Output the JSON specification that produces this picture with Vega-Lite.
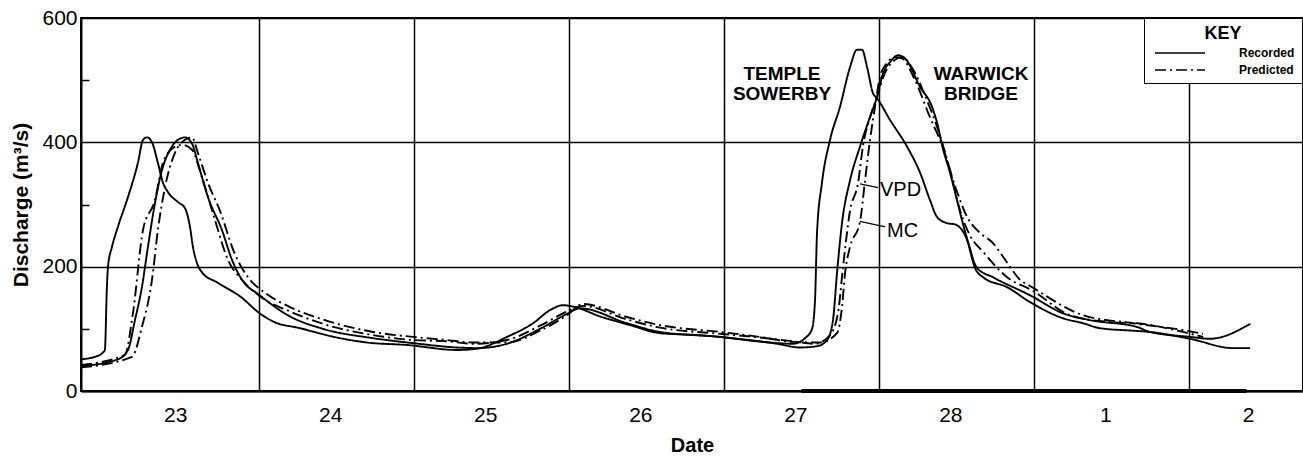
{
  "$schema": "https://vega.github.io/schema/vega-lite/v6.json",
  "width": 1222,
  "height": 373,
  "autosize": "none",
  "padding": {"left": 81, "top": 18, "right": 0, "bottom": 68},
  "background": "white",
  "config": {
    "font": "Liberation Sans",
    "view": {"stroke": "black", "strokeWidth": 2}
  },
  "datasets": {
    "flow": [
      {"series": "TS", "kind": "Recorded", "t": -0.148, "q": 51},
      {"series": "TS", "kind": "Recorded", "t": -0.058, "q": 55},
      {"series": "TS", "kind": "Recorded", "t": -0.006, "q": 62},
      {"series": "TS", "kind": "Recorded", "t": 0.006, "q": 66},
      {"series": "TS", "kind": "Recorded", "t": 0.019, "q": 167},
      {"series": "TS", "kind": "Recorded", "t": 0.026, "q": 200},
      {"series": "TS", "kind": "Recorded", "t": 0.052, "q": 232},
      {"series": "TS", "kind": "Recorded", "t": 0.09, "q": 264},
      {"series": "TS", "kind": "Recorded", "t": 0.155, "q": 312},
      {"series": "TS", "kind": "Recorded", "t": 0.219, "q": 367},
      {"series": "TS", "kind": "Recorded", "t": 0.252, "q": 404},
      {"series": "TS", "kind": "Recorded", "t": 0.277, "q": 408},
      {"series": "TS", "kind": "Recorded", "t": 0.31, "q": 400},
      {"series": "TS", "kind": "Recorded", "t": 0.348, "q": 367},
      {"series": "TS", "kind": "Recorded", "t": 0.381, "q": 335},
      {"series": "TS", "kind": "Recorded", "t": 0.413, "q": 320},
      {"series": "TS", "kind": "Recorded", "t": 0.477, "q": 304},
      {"series": "TS", "kind": "Recorded", "t": 0.523, "q": 294},
      {"series": "TS", "kind": "Recorded", "t": 0.555, "q": 264},
      {"series": "TS", "kind": "Recorded", "t": 0.574, "q": 232},
      {"series": "TS", "kind": "Recorded", "t": 0.6, "q": 206},
      {"series": "TS", "kind": "Recorded", "t": 0.632, "q": 191},
      {"series": "TS", "kind": "Recorded", "t": 0.735, "q": 174},
      {"series": "TS", "kind": "Recorded", "t": 0.89, "q": 150},
      {"series": "TS", "kind": "Recorded", "t": 0.994, "q": 127},
      {"series": "TS", "kind": "Recorded", "t": 1.09, "q": 112},
      {"series": "TS", "kind": "Recorded", "t": 1.265, "q": 101},
      {"series": "TS", "kind": "Recorded", "t": 1.523, "q": 85},
      {"series": "TS", "kind": "Recorded", "t": 1.697, "q": 78},
      {"series": "TS", "kind": "Recorded", "t": 1.955, "q": 74},
      {"series": "TS", "kind": "Recorded", "t": 2.277, "q": 66},
      {"series": "TS", "kind": "Recorded", "t": 2.406, "q": 68},
      {"series": "TS", "kind": "Recorded", "t": 2.6, "q": 87},
      {"series": "TS", "kind": "Recorded", "t": 2.768, "q": 109},
      {"series": "TS", "kind": "Recorded", "t": 2.877, "q": 130},
      {"series": "TS", "kind": "Recorded", "t": 2.961, "q": 138},
      {"series": "TS", "kind": "Recorded", "t": 3.039, "q": 135},
      {"series": "TS", "kind": "Recorded", "t": 3.2, "q": 120},
      {"series": "TS", "kind": "Recorded", "t": 3.394, "q": 106},
      {"series": "TS", "kind": "Recorded", "t": 3.587, "q": 93},
      {"series": "TS", "kind": "Recorded", "t": 3.826, "q": 90},
      {"series": "TS", "kind": "Recorded", "t": 3.974, "q": 87},
      {"series": "TS", "kind": "Recorded", "t": 4.252, "q": 79},
      {"series": "TS", "kind": "Recorded", "t": 4.445, "q": 76},
      {"series": "TS", "kind": "Recorded", "t": 4.523, "q": 85},
      {"series": "TS", "kind": "Recorded", "t": 4.568, "q": 100},
      {"series": "TS", "kind": "Recorded", "t": 4.587, "q": 146},
      {"series": "TS", "kind": "Recorded", "t": 4.6, "q": 254},
      {"series": "TS", "kind": "Recorded", "t": 4.632, "q": 335},
      {"series": "TS", "kind": "Recorded", "t": 4.684, "q": 404},
      {"series": "TS", "kind": "Recorded", "t": 4.748, "q": 457},
      {"series": "TS", "kind": "Recorded", "t": 4.813, "q": 521},
      {"series": "TS", "kind": "Recorded", "t": 4.858, "q": 549},
      {"series": "TS", "kind": "Recorded", "t": 4.89, "q": 549},
      {"series": "TS", "kind": "Recorded", "t": 4.923, "q": 521},
      {"series": "TS", "kind": "Recorded", "t": 4.961, "q": 479},
      {"series": "TS", "kind": "Recorded", "t": 4.987, "q": 471},
      {"series": "TS", "kind": "Recorded", "t": 5.071, "q": 436},
      {"series": "TS", "kind": "Recorded", "t": 5.181, "q": 393},
      {"series": "TS", "kind": "Recorded", "t": 5.265, "q": 351},
      {"series": "TS", "kind": "Recorded", "t": 5.329, "q": 307},
      {"series": "TS", "kind": "Recorded", "t": 5.374, "q": 280},
      {"series": "TS", "kind": "Recorded", "t": 5.439, "q": 270},
      {"series": "TS", "kind": "Recorded", "t": 5.49, "q": 268},
      {"series": "TS", "kind": "Recorded", "t": 5.568, "q": 243},
      {"series": "TS", "kind": "Recorded", "t": 5.619, "q": 198},
      {"series": "TS", "kind": "Recorded", "t": 5.671, "q": 183},
      {"series": "TS", "kind": "Recorded", "t": 5.826, "q": 167},
      {"series": "TS", "kind": "Recorded", "t": 5.974, "q": 143},
      {"series": "TS", "kind": "Recorded", "t": 6.187, "q": 117},
      {"series": "TS", "kind": "Recorded", "t": 6.316, "q": 109},
      {"series": "TS", "kind": "Recorded", "t": 6.426, "q": 101},
      {"series": "TS", "kind": "Recorded", "t": 6.639, "q": 97},
      {"series": "TS", "kind": "Recorded", "t": 6.748, "q": 95},
      {"series": "TS", "kind": "Recorded", "t": 7.006, "q": 84},
      {"series": "TS", "kind": "Recorded", "t": 7.284, "q": 69},
      {"series": "TS", "kind": "Recorded", "t": 7.394, "q": 69},

      {"series": "WB", "kind": "Recorded", "t": -0.148, "q": 40},
      {"series": "WB", "kind": "Recorded", "t": 0.09, "q": 51},
      {"series": "WB", "kind": "Recorded", "t": 0.155, "q": 66},
      {"series": "WB", "kind": "Recorded", "t": 0.2, "q": 114},
      {"series": "WB", "kind": "Recorded", "t": 0.245, "q": 167},
      {"series": "WB", "kind": "Recorded", "t": 0.284, "q": 232},
      {"series": "WB", "kind": "Recorded", "t": 0.329, "q": 302},
      {"series": "WB", "kind": "Recorded", "t": 0.374, "q": 355},
      {"series": "WB", "kind": "Recorded", "t": 0.426, "q": 388},
      {"series": "WB", "kind": "Recorded", "t": 0.477, "q": 404},
      {"series": "WB", "kind": "Recorded", "t": 0.523, "q": 408},
      {"series": "WB", "kind": "Recorded", "t": 0.568, "q": 398},
      {"series": "WB", "kind": "Recorded", "t": 0.606, "q": 367},
      {"series": "WB", "kind": "Recorded", "t": 0.671, "q": 312},
      {"series": "WB", "kind": "Recorded", "t": 0.761, "q": 259},
      {"series": "WB", "kind": "Recorded", "t": 0.826, "q": 211},
      {"series": "WB", "kind": "Recorded", "t": 0.89, "q": 179},
      {"series": "WB", "kind": "Recorded", "t": 1.0, "q": 155},
      {"series": "WB", "kind": "Recorded", "t": 1.2, "q": 120},
      {"series": "WB", "kind": "Recorded", "t": 1.413, "q": 100},
      {"series": "WB", "kind": "Recorded", "t": 1.735, "q": 85},
      {"series": "WB", "kind": "Recorded", "t": 1.994, "q": 77},
      {"series": "WB", "kind": "Recorded", "t": 2.277, "q": 70},
      {"series": "WB", "kind": "Recorded", "t": 2.406, "q": 69},
      {"series": "WB", "kind": "Recorded", "t": 2.6, "q": 76},
      {"series": "WB", "kind": "Recorded", "t": 2.813, "q": 100},
      {"series": "WB", "kind": "Recorded", "t": 2.987, "q": 124},
      {"series": "WB", "kind": "Recorded", "t": 3.071, "q": 133},
      {"series": "WB", "kind": "Recorded", "t": 3.374, "q": 109},
      {"series": "WB", "kind": "Recorded", "t": 3.587, "q": 95},
      {"series": "WB", "kind": "Recorded", "t": 3.974, "q": 87},
      {"series": "WB", "kind": "Recorded", "t": 4.342, "q": 76},
      {"series": "WB", "kind": "Recorded", "t": 4.49, "q": 70},
      {"series": "WB", "kind": "Recorded", "t": 4.6, "q": 72},
      {"series": "WB", "kind": "Recorded", "t": 4.665, "q": 82},
      {"series": "WB", "kind": "Recorded", "t": 4.703, "q": 114},
      {"series": "WB", "kind": "Recorded", "t": 4.729, "q": 190},
      {"series": "WB", "kind": "Recorded", "t": 4.761, "q": 270},
      {"series": "WB", "kind": "Recorded", "t": 4.813, "q": 339},
      {"series": "WB", "kind": "Recorded", "t": 4.877, "q": 393},
      {"series": "WB", "kind": "Recorded", "t": 4.942, "q": 441},
      {"series": "WB", "kind": "Recorded", "t": 4.987, "q": 473},
      {"series": "WB", "kind": "Recorded", "t": 5.026, "q": 511},
      {"series": "WB", "kind": "Recorded", "t": 5.071, "q": 529},
      {"series": "WB", "kind": "Recorded", "t": 5.123, "q": 540},
      {"series": "WB", "kind": "Recorded", "t": 5.168, "q": 535},
      {"series": "WB", "kind": "Recorded", "t": 5.265, "q": 489},
      {"series": "WB", "kind": "Recorded", "t": 5.342, "q": 457},
      {"series": "WB", "kind": "Recorded", "t": 5.381, "q": 425},
      {"series": "WB", "kind": "Recorded", "t": 5.406, "q": 396},
      {"series": "WB", "kind": "Recorded", "t": 5.458, "q": 351},
      {"series": "WB", "kind": "Recorded", "t": 5.503, "q": 307},
      {"series": "WB", "kind": "Recorded", "t": 5.535, "q": 275},
      {"series": "WB", "kind": "Recorded", "t": 5.574, "q": 240},
      {"series": "WB", "kind": "Recorded", "t": 5.632, "q": 198},
      {"series": "WB", "kind": "Recorded", "t": 5.735, "q": 183},
      {"series": "WB", "kind": "Recorded", "t": 5.974, "q": 154},
      {"series": "WB", "kind": "Recorded", "t": 6.187, "q": 125},
      {"series": "WB", "kind": "Recorded", "t": 6.361, "q": 114},
      {"series": "WB", "kind": "Recorded", "t": 6.665, "q": 103},
      {"series": "WB", "kind": "Recorded", "t": 6.748, "q": 95},
      {"series": "WB", "kind": "Recorded", "t": 7.006, "q": 87},
      {"series": "WB", "kind": "Recorded", "t": 7.135, "q": 84},
      {"series": "WB", "kind": "Recorded", "t": 7.394, "q": 108},

      {"series": "VPD", "kind": "Predicted", "t": -0.148, "q": 42},
      {"series": "VPD", "kind": "Predicted", "t": 0.135, "q": 58},
      {"series": "VPD", "kind": "Predicted", "t": 0.187, "q": 125},
      {"series": "VPD", "kind": "Predicted", "t": 0.252, "q": 259},
      {"series": "VPD", "kind": "Predicted", "t": 0.329, "q": 307},
      {"series": "VPD", "kind": "Predicted", "t": 0.381, "q": 367},
      {"series": "VPD", "kind": "Predicted", "t": 0.458, "q": 393},
      {"series": "VPD", "kind": "Predicted", "t": 0.503, "q": 396},
      {"series": "VPD", "kind": "Predicted", "t": 0.568, "q": 388},
      {"series": "VPD", "kind": "Predicted", "t": 0.632, "q": 344},
      {"series": "VPD", "kind": "Predicted", "t": 0.716, "q": 275},
      {"series": "VPD", "kind": "Predicted", "t": 0.8, "q": 211},
      {"series": "VPD", "kind": "Predicted", "t": 0.89, "q": 179},
      {"series": "VPD", "kind": "Predicted", "t": 1.019, "q": 150},
      {"series": "VPD", "kind": "Predicted", "t": 1.2, "q": 128},
      {"series": "VPD", "kind": "Predicted", "t": 1.413, "q": 108},
      {"series": "VPD", "kind": "Predicted", "t": 1.735, "q": 90},
      {"series": "VPD", "kind": "Predicted", "t": 1.994, "q": 82},
      {"series": "VPD", "kind": "Predicted", "t": 2.213, "q": 80},
      {"series": "VPD", "kind": "Predicted", "t": 2.381, "q": 76},
      {"series": "VPD", "kind": "Predicted", "t": 2.6, "q": 82},
      {"series": "VPD", "kind": "Predicted", "t": 2.813, "q": 105},
      {"series": "VPD", "kind": "Predicted", "t": 2.987, "q": 128},
      {"series": "VPD", "kind": "Predicted", "t": 3.09, "q": 137},
      {"series": "VPD", "kind": "Predicted", "t": 3.374, "q": 115},
      {"series": "VPD", "kind": "Predicted", "t": 3.587, "q": 102},
      {"series": "VPD", "kind": "Predicted", "t": 3.974, "q": 92},
      {"series": "VPD", "kind": "Predicted", "t": 4.232, "q": 86},
      {"series": "VPD", "kind": "Predicted", "t": 4.445, "q": 80},
      {"series": "VPD", "kind": "Predicted", "t": 4.587, "q": 76},
      {"series": "VPD", "kind": "Predicted", "t": 4.684, "q": 90},
      {"series": "VPD", "kind": "Predicted", "t": 4.735, "q": 125},
      {"series": "VPD", "kind": "Predicted", "t": 4.768, "q": 200},
      {"series": "VPD", "kind": "Predicted", "t": 4.813, "q": 290},
      {"series": "VPD", "kind": "Predicted", "t": 4.865, "q": 335},
      {"series": "VPD", "kind": "Predicted", "t": 4.897, "q": 395},
      {"series": "VPD", "kind": "Predicted", "t": 4.942, "q": 440},
      {"series": "VPD", "kind": "Predicted", "t": 4.987, "q": 473},
      {"series": "VPD", "kind": "Predicted", "t": 5.039, "q": 512},
      {"series": "VPD", "kind": "Predicted", "t": 5.09, "q": 530},
      {"series": "VPD", "kind": "Predicted", "t": 5.148, "q": 537},
      {"series": "VPD", "kind": "Predicted", "t": 5.213, "q": 520},
      {"series": "VPD", "kind": "Predicted", "t": 5.297, "q": 475},
      {"series": "VPD", "kind": "Predicted", "t": 5.394, "q": 410},
      {"series": "VPD", "kind": "Predicted", "t": 5.458, "q": 355},
      {"series": "VPD", "kind": "Predicted", "t": 5.523, "q": 290},
      {"series": "VPD", "kind": "Predicted", "t": 5.587, "q": 250},
      {"series": "VPD", "kind": "Predicted", "t": 5.671, "q": 224},
      {"series": "VPD", "kind": "Predicted", "t": 5.826, "q": 183},
      {"series": "VPD", "kind": "Predicted", "t": 5.987, "q": 162},
      {"series": "VPD", "kind": "Predicted", "t": 6.232, "q": 122},
      {"series": "VPD", "kind": "Predicted", "t": 6.49, "q": 111},
      {"series": "VPD", "kind": "Predicted", "t": 6.665, "q": 109},
      {"series": "VPD", "kind": "Predicted", "t": 6.961, "q": 95},
      {"series": "VPD", "kind": "Predicted", "t": 7.09, "q": 87},

      {"series": "MC", "kind": "Predicted", "t": -0.148, "q": 38},
      {"series": "MC", "kind": "Predicted", "t": 0.181, "q": 55},
      {"series": "MC", "kind": "Predicted", "t": 0.245, "q": 103},
      {"series": "MC", "kind": "Predicted", "t": 0.31, "q": 179},
      {"series": "MC", "kind": "Predicted", "t": 0.348, "q": 259},
      {"series": "MC", "kind": "Predicted", "t": 0.394, "q": 328},
      {"series": "MC", "kind": "Predicted", "t": 0.458, "q": 383},
      {"series": "MC", "kind": "Predicted", "t": 0.523, "q": 404},
      {"series": "MC", "kind": "Predicted", "t": 0.568, "q": 408},
      {"series": "MC", "kind": "Predicted", "t": 0.606, "q": 383},
      {"series": "MC", "kind": "Predicted", "t": 0.671, "q": 335},
      {"series": "MC", "kind": "Predicted", "t": 0.748, "q": 290},
      {"series": "MC", "kind": "Predicted", "t": 0.845, "q": 220},
      {"series": "MC", "kind": "Predicted", "t": 0.929, "q": 183},
      {"series": "MC", "kind": "Predicted", "t": 1.039, "q": 158},
      {"series": "MC", "kind": "Predicted", "t": 1.2, "q": 135},
      {"series": "MC", "kind": "Predicted", "t": 1.413, "q": 115},
      {"series": "MC", "kind": "Predicted", "t": 1.735, "q": 95},
      {"series": "MC", "kind": "Predicted", "t": 1.994, "q": 87},
      {"series": "MC", "kind": "Predicted", "t": 2.213, "q": 82},
      {"series": "MC", "kind": "Predicted", "t": 2.381, "q": 78},
      {"series": "MC", "kind": "Predicted", "t": 2.6, "q": 78},
      {"series": "MC", "kind": "Predicted", "t": 2.813, "q": 97},
      {"series": "MC", "kind": "Predicted", "t": 2.987, "q": 122},
      {"series": "MC", "kind": "Predicted", "t": 3.09, "q": 140},
      {"series": "MC", "kind": "Predicted", "t": 3.374, "q": 119},
      {"series": "MC", "kind": "Predicted", "t": 3.587, "q": 106},
      {"series": "MC", "kind": "Predicted", "t": 3.974, "q": 95},
      {"series": "MC", "kind": "Predicted", "t": 4.232, "q": 87},
      {"series": "MC", "kind": "Predicted", "t": 4.445, "q": 79},
      {"series": "MC", "kind": "Predicted", "t": 4.619, "q": 78},
      {"series": "MC", "kind": "Predicted", "t": 4.729, "q": 93},
      {"series": "MC", "kind": "Predicted", "t": 4.761, "q": 135},
      {"series": "MC", "kind": "Predicted", "t": 4.781, "q": 190},
      {"series": "MC", "kind": "Predicted", "t": 4.813, "q": 232},
      {"series": "MC", "kind": "Predicted", "t": 4.877, "q": 272},
      {"series": "MC", "kind": "Predicted", "t": 4.91, "q": 339},
      {"series": "MC", "kind": "Predicted", "t": 4.942, "q": 404},
      {"series": "MC", "kind": "Predicted", "t": 4.974, "q": 457},
      {"series": "MC", "kind": "Predicted", "t": 5.006, "q": 505},
      {"series": "MC", "kind": "Predicted", "t": 5.052, "q": 528},
      {"series": "MC", "kind": "Predicted", "t": 5.103, "q": 537},
      {"series": "MC", "kind": "Predicted", "t": 5.148, "q": 535},
      {"series": "MC", "kind": "Predicted", "t": 5.232, "q": 500},
      {"series": "MC", "kind": "Predicted", "t": 5.329, "q": 440},
      {"series": "MC", "kind": "Predicted", "t": 5.406, "q": 396},
      {"series": "MC", "kind": "Predicted", "t": 5.49, "q": 330},
      {"series": "MC", "kind": "Predicted", "t": 5.568, "q": 280},
      {"series": "MC", "kind": "Predicted", "t": 5.652, "q": 254},
      {"series": "MC", "kind": "Predicted", "t": 5.735, "q": 238},
      {"series": "MC", "kind": "Predicted", "t": 5.8, "q": 216},
      {"series": "MC", "kind": "Predicted", "t": 5.91, "q": 179},
      {"series": "MC", "kind": "Predicted", "t": 5.987, "q": 167},
      {"series": "MC", "kind": "Predicted", "t": 6.316, "q": 122},
      {"series": "MC", "kind": "Predicted", "t": 6.639, "q": 109},
      {"series": "MC", "kind": "Predicted", "t": 6.961, "q": 98},
      {"series": "MC", "kind": "Predicted", "t": 7.09, "q": 92}
    ],
    "labels": [
      {"label": "TEMPLE\nSOWERBY", "t": 4.374, "q": 510},
      {"label": "WARWICK\nBRIDGE", "t": 5.658, "q": 510}
    ],
    "models": [
      {"label": "VPD", "t": 5.006, "q": 323},
      {"label": "MC", "t": 5.052, "q": 257}
    ],
    "leaders": [
      {"t1": 4.877, "q1": 333, "t2": 4.994, "q2": 327},
      {"t1": 4.877, "q1": 273, "t2": 5.039, "q2": 264}
    ],
    "bar": [
      {"t1": 4.5, "t2": 7.37, "q": 0}
    ]
  },
  "layer": [
    {
      "data": {"name": "flow"},
      "mark": {"type": "line", "interpolate": "monotone", "color": "black", "strokeWidth": 1.9},
      "encoding": {
        "x": {
          "field": "t", "type": "quantitative",
          "scale": {"domain": [-0.148, 7.735], "nice": false, "zero": false},
          "axis": {
            "title": "Date",
            "titleFontSize": 20, "titleFontWeight": "bold", "titleColor": "black", "titlePadding": 10,
            "values": [1, 2, 3, 4, 5, 6, 7, 0.46, 1.46, 2.46, 3.46, 4.46, 5.46, 6.46, 7.38],
            "labelExpr": "datum.value % 1 === 0 ? '' : (datum.value < 6 ? '' + (floor(datum.value) + 23) : '' + (floor(datum.value) - 5))",
            "labelFontSize": 21, "labelColor": "black", "labelPadding": 13, "labelFlush": false,
            "ticks": false,
            "grid": true, "gridColor": "black", "gridWidth": 1.5,
            "gridOpacity": {"condition": {"test": "datum.value % 1 === 0", "value": 1}, "value": 0},
            "domainColor": "black", "domainWidth": 2
          }
        },
        "y": {
          "field": "q", "type": "quantitative",
          "scale": {"domain": [0, 600], "nice": false},
          "axis": {
            "title": "Discharge (m³/s)",
            "titleFontSize": 21, "titleFontWeight": "bold", "titleColor": "black", "titlePadding": 10,
            "values": [0, 100, 200, 300, 400, 500, 600],
            "labelExpr": "datum.value % 200 === 0 ? datum.label : ''",
            "labelFontSize": 21, "labelColor": "black", "labelPadding": 12,
            "ticks": true, "tickSize": -8, "tickColor": "black", "tickWidth": 1.5,
            "tickOpacity": {"condition": {"test": "datum.value % 200 === 0", "value": 0}, "value": 1},
            "grid": true, "gridColor": "black", "gridWidth": 1.5,
            "gridOpacity": {"condition": {"test": "datum.value % 200 === 0", "value": 1}, "value": 0},
            "domainColor": "black", "domainWidth": 2
          }
        },
        "detail": {"field": "series"},
        "strokeDash": {
          "field": "kind", "type": "nominal",
          "scale": {"domain": ["Recorded", "Predicted"], "range": [[1, 0], [11, 4, 2, 4]]},
          "legend": {
            "title": "KEY", "orient": "none", "legendX": 1063, "legendY": 0,
            "titleFontSize": 18, "titleFontWeight": "bold", "titleColor": "black", "titleAnchor": "middle",
            "titlePadding": 4,
            "fillColor": "white", "strokeColor": "black", "padding": 7,
            "symbolType": "M-1,0H9", "symbolSize": 100, "symbolStrokeWidth": 1.6, "symbolStrokeColor": "black",
            "symbolOffset": 3,
            "labelFontSize": 12, "labelFontWeight": "bold", "labelColor": "black", "labelOffset": 73,
            "rowPadding": 5
          }
        }
      }
    },
    {
      "data": {"name": "bar"},
      "mark": {"type": "rule", "color": "black", "strokeWidth": 4},
      "encoding": {
        "x": {"field": "t1", "type": "quantitative"},
        "x2": {"field": "t2"},
        "y": {"field": "q", "type": "quantitative"}
      }
    },
    {
      "data": {"name": "leaders"},
      "mark": {"type": "rule", "color": "black", "strokeWidth": 1.3},
      "encoding": {
        "x": {"field": "t1", "type": "quantitative"},
        "x2": {"field": "t2"},
        "y": {"field": "q1", "type": "quantitative"},
        "y2": {"field": "q2"}
      }
    },
    {
      "data": {"name": "labels"},
      "mark": {"type": "text", "font": "Liberation Sans", "fontWeight": "bold", "fontSize": 19, "lineBreak": "\n", "lineHeight": 20, "align": "center", "baseline": "middle", "color": "black"},
      "encoding": {
        "x": {"field": "t", "type": "quantitative"},
        "y": {"field": "q", "type": "quantitative"},
        "text": {"field": "label"}
      }
    },
    {
      "data": {"name": "models"},
      "mark": {"type": "text", "font": "Liberation Sans", "fontSize": 20, "align": "left", "baseline": "middle", "color": "black"},
      "encoding": {
        "x": {"field": "t", "type": "quantitative"},
        "y": {"field": "q", "type": "quantitative"},
        "text": {"field": "label"}
      }
    }
  ]
}
